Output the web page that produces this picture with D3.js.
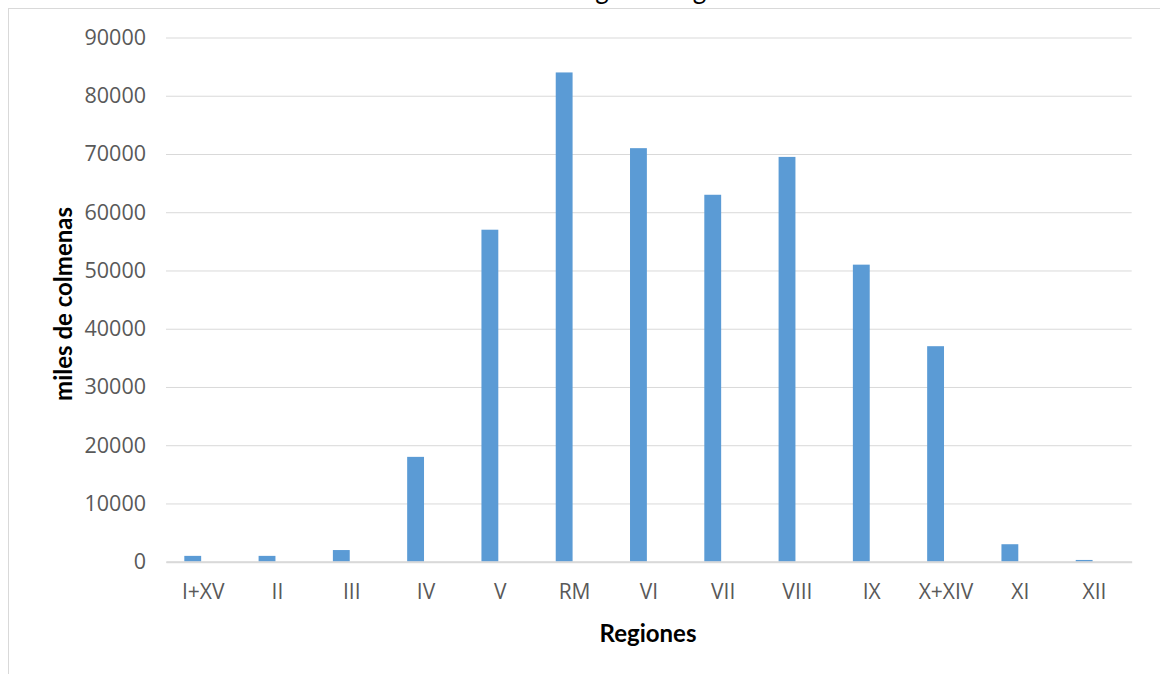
<!DOCTYPE html>
<html>
<head>
<meta charset="utf-8">
<script src="https://cdn.jsdelivr.net/npm/d3@7"></script>
<style>
  html, body { margin: 0; padding: 0; background: #fff; }
  svg { display: block; }
</style>
</head>
<body>
<svg id="chart" width="1160" height="674"></svg>
<script>
const categories = ["I+XV","II","III","IV","V","RM","VI","VII","VIII","IX","X+XIV","XI","XII"];
const values = [1000, 1000, 2000, 18000, 57000, 84000, 71000, 63000, 69500, 51000, 37000, 3000, 300];
const yTickValues = [0, 10000, 20000, 30000, 40000, 50000, 60000, 70000, 80000, 90000];
const seriesNames = ["colmenas", "vacío"];
const chartTitle = "Número de colmenas según la región";
const yTitle = "miles de colmenas";
const xTitle = "Regiones";

const svg = d3.select("#chart");
const plot = { left: 166, right: 1131.7, top: 37.5, bottom: 561.7 };

// chart area border
svg.append("rect")
  .attr("x", 8.5).attr("y", 8.5)
  .attr("width", 1200).attr("height", 800)
  .attr("fill", "none").attr("stroke", "#d9d9d9").attr("stroke-width", 1);

// title (cut off at top, as in the reference)
svg.append("text")
  .attr("x", 532).attr("y", -1)
  .attr("text-anchor", "middle")
  .attr("font-family", "Lato, 'Open Sans', sans-serif")
  .attr("font-size", 26)
  .attr("fill", "#000")
  .text(chartTitle);

const x = d3.scaleBand().domain(categories).range([plot.left, plot.right]).padding(0);
const xs = d3.scaleBand().domain(seriesNames).range([0, x.bandwidth()]).paddingInner(0.19).paddingOuter(0.88);
const y = d3.scaleLinear().domain([0, 90000]).range([plot.bottom, plot.top]);

// y gridlines + labels
const yAxis = svg.append("g")
  .attr("transform", `translate(${plot.left},0)`)
  .call(d3.axisLeft(y).tickValues(yTickValues).tickFormat(d3.format("d"))
    .tickSize(-(plot.right - plot.left)).tickPadding(20));
yAxis.select(".domain").remove();
yAxis.selectAll(".tick line").attr("stroke", "#d9d9d9").attr("stroke-width", 1);
yAxis.selectAll(".tick text")
  .attr("font-family", "'Open Sans', sans-serif")
  .attr("font-size", 21.5)
  .attr("fill", "#595959");

// bars
svg.append("g").selectAll("rect")
  .data(categories.map((c, i) => ({ c, v: values[i] })))
  .join("rect")
  .attr("x", d => x(d.c) + xs(seriesNames[0]))
  .attr("width", xs.bandwidth())
  .attr("y", d => y(d.v))
  .attr("height", d => y(0) - y(d.v))
  .attr("fill", "#5b9bd5");

// x axis
const xAxis = svg.append("g")
  .attr("transform", `translate(0,${plot.bottom})`)
  .call(d3.axisBottom(x).tickSize(0).tickPadding(22));
xAxis.select(".domain").attr("stroke", "#d9d9d9").attr("stroke-width", 2);
xAxis.selectAll(".tick text")
  .attr("font-family", "'Open Sans', sans-serif")
  .attr("font-size", 21)
  .attr("fill", "#595959");

// axis titles
svg.append("text")
  .attr("transform", "translate(62,304) rotate(-90)")
  .attr("text-anchor", "middle")
  .attr("dominant-baseline", "central")
  .attr("font-family", "Lato, sans-serif")
  .attr("font-weight", "bold")
  .attr("font-size", 24)
  .attr("fill", "#000")
  .text(yTitle);

svg.append("text")
  .attr("x", 648).attr("y", 632)
  .attr("text-anchor", "middle")
  .attr("dominant-baseline", "central")
  .attr("font-family", "Lato, sans-serif")
  .attr("font-weight", "bold")
  .attr("font-size", 24)
  .attr("fill", "#000")
  .text(xTitle);
</script>
</body>
</html>
